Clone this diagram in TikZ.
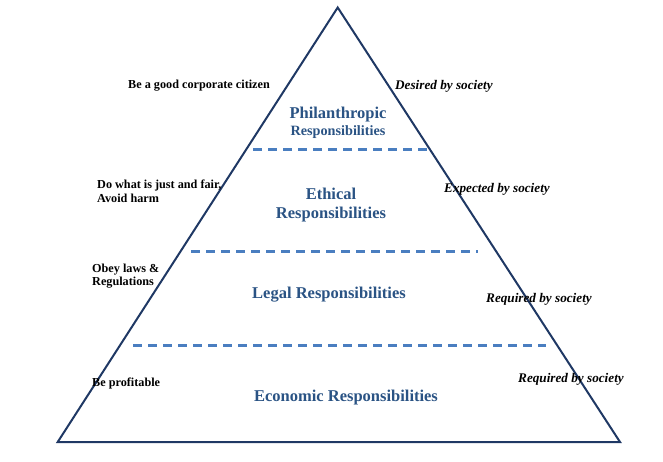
\documentclass[tikz,border=0pt]{standalone}
\usepackage{fontspec}
\setmainfont{Liberation Serif}
\usepackage{tikz}
\definecolor{pyramidnavy}{HTML}{1F3864}
\definecolor{tierdash}{HTML}{4A7EC0}
\definecolor{tierblue}{HTML}{2A5384}

\begin{document}
\begin{tikzpicture}[x=1pt, y=-1pt]
    \tikzstyle{tier} = [text=tierblue, font=\fontsize{16.5}{19}\selectfont\bfseries, align=center, inner sep=0pt]
    \tikzstyle{duty} = [font=\fontsize{12.2}{13.5}\selectfont\bfseries, align=left, anchor=west, inner sep=0pt]
    \tikzstyle{society} = [font=\fontsize{13.2}{14}\selectfont\bfseries\itshape, anchor=west, inner sep=0pt]
    \tikzstyle{divider} = [tierdash, line width=3pt, dash pattern=on 9pt off 6pt]

    \useasboundingbox (0,0) rectangle (663,461);

    % pyramid outline
    \coordinate (apex) at (337.7,7.5);
    \coordinate (baseL) at (57.7,442);
    \coordinate (baseR) at (620,442);
    \draw [pyramidnavy, line width=2pt] (apex) -- (baseR) -- (baseL) -- cycle;

    % tier dividers
    \coordinate (d1L) at (253,149);  \coordinate (d1R) at (427,149);
    \coordinate (d2L) at (191,251.5); \coordinate (d2R) at (478,251.5);
    \coordinate (d3L) at (133,345.5); \coordinate (d3R) at (546,345.5);
    \draw [divider] (d1L) -- (d1R);
    \draw [divider] (d2L) -- (d2R);
    \draw [divider] (d3L) -- (d3R);

    % tier names
    \node (philan) [tier] at (338,123) {Philanthropic\\[-1.5pt]{\fontsize{14.2}{16}\selectfont Responsibilities}};
    \node (ethic) [tier] at (331,205.5) {Ethical\\Responsibilities};
    \node (legal) [tier] at (329,295) {Legal Responsibilities};
    \node (econ) [tier] at (346,398) {Economic Responsibilities};

    % what each tier asks
    \node (citizen) [duty] at (128,86) {Be a good corporate citizen};
    \node (fair) [duty] at (97,191.5) {Do what is just and fair,\\Avoid harm};
    \node (laws) [duty] at (92,276) {Obey laws \&\\Regulations};
    \node (profit) [duty] at (92,383) {Be profitable};

    % society's view
    \node (desired) [society] at (395,86) {Desired by society};
    \node (expected) [society] at (444,189) {Expected by society};
    \node (reqlegal) [society] at (486,299) {Required by society};
    \node (reqecon) [society] at (518,379) {Required by society};
\end{tikzpicture}
\end{document}
